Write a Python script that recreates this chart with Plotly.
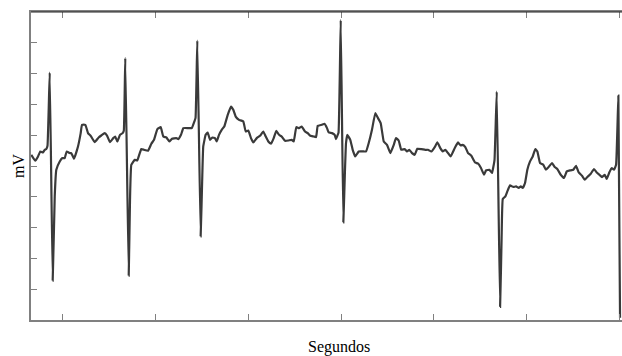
import plotly.graph_objects as go

# ECG trace: time (s) and voltage (mV)
t = [0.003, 0.046, 0.076, 0.100, 0.129, 0.148, 0.165, 0.178, 0.202, 0.234,
     0.256, 0.273, 0.310, 0.338, 0.364, 0.385, 0.417, 0.435, 0.464, 0.507,
     0.536, 0.550, 0.586, 0.615, 0.644, 0.687, 0.730, 0.758, 0.795, 0.820,
     0.852, 0.888, 0.909, 0.931, 0.960, 0.989, 1.001, 1.017, 1.054, 1.068,
     1.082, 1.119, 1.147, 1.162, 1.190, 1.219, 1.262, 1.298, 1.327, 1.363,
     1.399, 1.427, 1.460, 1.492, 1.521, 1.567, 1.589, 1.618, 1.643, 1.697,
     1.734, 1.762, 1.775, 1.794, 1.830, 1.848, 1.858, 1.884, 1.906, 1.931,
     1.956, 1.985, 2.003, 2.028, 2.057, 2.085, 2.122, 2.158, 2.182, 2.208,
     2.244, 2.290, 2.316, 2.344, 2.373, 2.398, 2.435, 2.470, 2.506, 2.532,
     2.560, 2.589, 2.618, 2.646, 2.675, 2.704, 2.740, 2.776, 2.812, 2.834,
     2.862, 2.891, 2.920, 2.956, 2.985, 3.013, 3.050, 3.075, 3.093, 3.136,
     3.166, 3.193, 3.211, 3.247, 3.276, 3.290, 3.301, 3.317, 3.341, 3.369,
     3.387, 3.398, 3.412, 3.444, 3.470, 3.498, 3.535, 3.589, 3.614, 3.643,
     3.678, 3.714, 3.743, 3.772, 3.805, 3.840, 3.876, 3.913, 3.937, 3.966,
     3.994, 4.031, 4.056, 4.081, 4.110, 4.139, 4.167, 4.210, 4.253, 4.282,
     4.318, 4.355, 4.383, 4.415, 4.441, 4.469, 4.498, 4.527, 4.571, 4.606,
     4.635, 4.657, 4.685, 4.714, 4.750, 4.790, 4.825, 4.854, 4.887, 4.908,
     4.944, 4.973, 4.987, 5.000, 5.024, 5.060, 5.076, 5.089, 5.117, 5.138,
     5.167, 5.203, 5.232, 5.261, 5.283, 5.304, 5.329, 5.354, 5.383, 5.412,
     5.440, 5.462, 5.491, 5.526, 5.555, 5.584, 5.620, 5.649, 5.677, 5.714,
     5.749, 5.779, 5.814, 5.850, 5.879, 5.908, 5.944, 5.973, 6.001, 6.038,
     6.073, 6.102, 6.131, 6.160, 6.189, 6.210, 6.238, 6.264, 6.289, 6.311,
     6.336, 6.354]

mv = [0.182, 0.085, 0.155, 0.236, 0.220, 0.263, 0.275, 0.328, 1.516, -1.860,
      -0.493, -0.061, 0.074, 0.129, 0.129, 0.236, 0.210, 0.210, 0.118, 0.317,
      0.534, 0.669, 0.669, 0.534, 0.490, 0.388, 0.463, 0.495, 0.534, 0.495,
      0.388, 0.453, 0.479, 0.398, 0.506, 0.534, 0.571, 1.750, -1.779, -0.547,
      0.020, 0.101, 0.090, 0.155, 0.275, 0.263, 0.247, 0.361, 0.425, 0.599,
      0.631, 0.479, 0.463, 0.398, 0.442, 0.453, 0.437, 0.506, 0.615, 0.615,
      0.615, 0.722, 0.782, 2.035, -1.142, -0.142, 0.317, 0.506, 0.544, 0.425,
      0.463, 0.453, 0.398, 0.506, 0.588, 0.641, 0.831, 0.965, 0.912, 0.803,
      0.750, 0.722, 0.560, 0.576, 0.453, 0.382, 0.453, 0.490, 0.560, 0.479,
      0.398, 0.361, 0.453, 0.571, 0.506, 0.479, 0.409, 0.414, 0.425, 0.398,
      0.631, 0.615, 0.641, 0.560, 0.534, 0.490, 0.479, 0.469, 0.652, 0.669,
      0.685, 0.615, 0.544, 0.534, 0.506, 0.437, 0.479, 0.539, 2.370, -0.915,
      -0.061, 0.372, 0.506, 0.425, 0.263, 0.155, 0.236, 0.236, 0.236, 0.372,
      0.588, 0.858, 0.777, 0.696, 0.398, 0.344, 0.210, 0.344, 0.453, 0.414,
      0.263, 0.275, 0.236, 0.263, 0.210, 0.182, 0.280, 0.275, 0.263, 0.263,
      0.236, 0.307, 0.382, 0.291, 0.236, 0.263, 0.210, 0.155, 0.291, 0.382,
      0.333, 0.344, 0.307, 0.210, 0.166, 0.058, 0.036, -0.033, -0.142, -0.072,
      -0.061, -0.114, -0.017, 0.101, 1.208, -2.286, -1.195, -0.536, -0.493, -0.412,
      -0.315, -0.341, -0.331, -0.357, -0.331, -0.357, -0.276, -0.061, 0.074, 0.155,
      0.275, 0.236, 0.048, 0.020, -0.061, -0.017, 0.048, -0.017, -0.049, -0.142,
      -0.195, -0.088, -0.072, -0.061, 0.004, -0.105, -0.158, -0.223, -0.179, -0.126,
      -0.049, -0.105, -0.142, -0.179, -0.142, -0.211, -0.105, -0.033, -0.061, 0.020,
      1.143, -2.464]

x_label = "Segundos"
y_label = "mV"

fig = go.Figure()
fig.add_trace(go.Scatter(x=t, y=mv, mode="lines",
                         line=dict(color="#3a3a3a", width=2.2, shape="spline", smoothing=0.3),
                         hoverinfo="skip", showlegend=False))

fig.update_layout(
    width=622, height=356,
    margin=dict(l=31, r=0, t=12, b=36),
    paper_bgcolor="white", plot_bgcolor="white",
    font=dict(family="Liberation Serif", size=16, color="black"),
    xaxis=dict(range=[0, 6.375], showgrid=False, zeroline=False,
               tickmode="linear", tick0=0.345, dtick=1,
               ticks="inside", ticklen=6, tickwidth=1, tickcolor="#808080",
               showticklabels=False,
               showline=True, linecolor="#808080", linewidth=1.5,
               mirror="ticks"),
    yaxis=dict(range=[-2.5, 2.5], showgrid=False, zeroline=False,
               tickmode="array", tickvals=[-2.5, -2, -1.5, -1, -0.5, 0, 0.5, 1, 1.5, 2],
               ticks="inside", ticklen=6, tickwidth=1, tickcolor="#808080",
               showticklabels=False,
               showline=True, linecolor="#808080", linewidth=1.5),
    shapes=[dict(type="line", xref="paper", yref="paper", x0=0, x1=1, y0=1, y1=1,
                 line=dict(color="#222222", width=1.2), layer="above")],
    annotations=[
        dict(text=x_label, xref="paper", yref="paper", x=0.521, y=0, yshift=-27,
             showarrow=False, xanchor="center", yanchor="middle",
             font=dict(family="Liberation Serif", size=16)),
        dict(text=y_label, xref="paper", yref="paper", x=0, xshift=-13, y=0.5,
             textangle=-90, showarrow=False, xanchor="center", yanchor="middle",
             font=dict(family="Liberation Serif", size=16)),
    ],
)

fig.write_html("out.html")
